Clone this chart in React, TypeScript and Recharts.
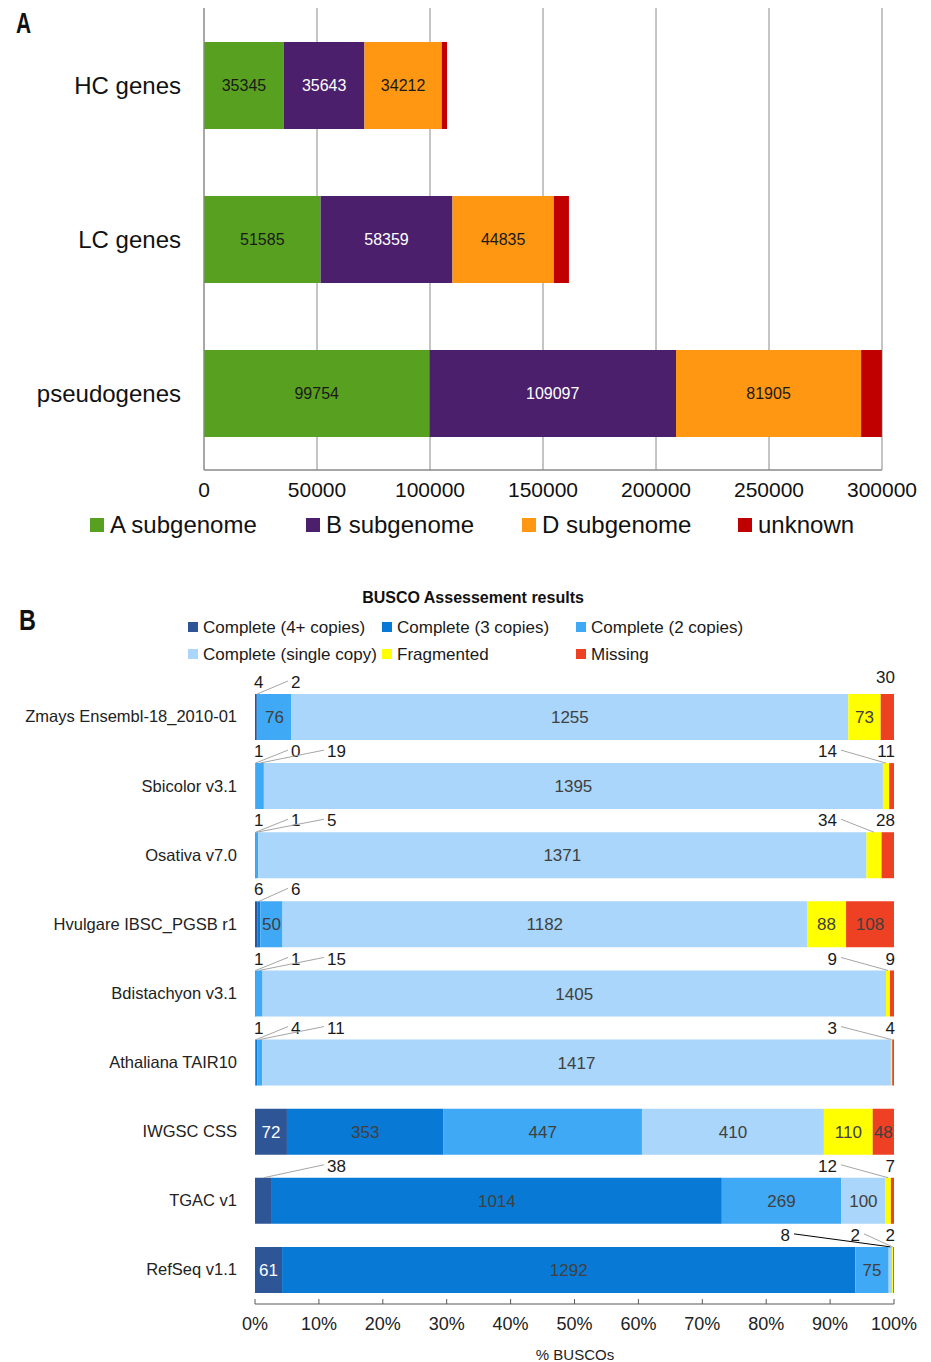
import React from 'react';
import { BarChart, Bar, XAxis, YAxis, CartesianGrid, LabelList } from 'recharts';

const FONT = '"Liberation Sans", Arial, Helvetica, sans-serif';

// ---------- Panel A data ----------
const geneCategories = ['HC genes', 'LC genes', 'pseudogenes'];
const subA = [35345, 51585, 99754];
const subB = [35643, 58359, 109097];
const subD = [34212, 44835, 81905];
const subUnknown = [2350, 6700, 9200];
const geneTicks = [0, 50000, 100000, 150000, 200000, 250000, 300000];

// ---------- Panel B data ----------
const buscoSets = [
  'Zmays Ensembl-18_2010-01',
  'Sbicolor v3.1',
  'Osativa v7.0',
  'Hvulgare IBSC_PGSB r1',
  'Bdistachyon v3.1',
  'Athaliana TAIR10',
  'IWGSC CSS',
  'TGAC v1',
  'RefSeq v1.1',
];
const complete4 = [4, 1, 1, 6, 1, 1, 72, 38, 61];
const complete3 = [2, 0, 1, 6, 1, 4, 353, 1014, 1292];
const complete2 = [76, 19, 5, 50, 15, 11, 447, 269, 75];
const completeSingle = [1255, 1395, 1371, 1182, 1405, 1417, 410, 100, 8];
const fragmented = [73, 14, 34, 88, 9, 3, 110, 12, 2];
const missing = [30, 11, 28, 108, 9, 4, 48, 7, 2];
const percentTicks = [0, 0.1, 0.2, 0.3, 0.4, 0.5, 0.6, 0.7, 0.8, 0.9, 1];

const geneSeries = [
  { key: 'A', name: 'A subgenome', color: '#58A01F', labelColor: '#1a1a1a', values: subA, showLabel: true },
  { key: 'B', name: 'B subgenome', color: '#4C1F6C', labelColor: '#ffffff', values: subB, showLabel: true },
  { key: 'D', name: 'D subgenome', color: '#FF9712', labelColor: '#1a1a1a', values: subD, showLabel: true },
  { key: 'U', name: 'unknown', color: '#C00000', labelColor: '#ffffff', values: subUnknown, showLabel: false },
];

const geneRows = geneCategories.map((name, i) => {
  const row: any = { name };
  geneSeries.forEach((s) => (row[s.key] = s.values[i]));
  return row;
});

const buscoSeries = [
  { key: 'c4', name: 'Complete (4+ copies)', color: '#2E5596', values: complete4 },
  { key: 'c3', name: 'Complete (3 copies)', color: '#087AD6', values: complete3 },
  { key: 'c2', name: 'Complete (2 copies)', color: '#3FA9F5', values: complete2 },
  { key: 'cs', name: 'Complete (single copy)', color: '#A9D6FA', values: completeSingle },
  { key: 'fr', name: 'Fragmented', color: '#FFFF00', values: fragmented },
  { key: 'mi', name: 'Missing', color: '#EE4123', values: missing },
];

const buscoRows = buscoSets.map((name, i) => {
  const row: any = { name };
  buscoSeries.forEach((s) => (row[s.key] = s.values[i]));
  return row;
});

// layout constants for panel B (chart-local coordinates)
const B_WIDTH = 931;
const B_HEIGHT = 702;
const B_MARGIN = { top: 22, right: 37, bottom: 28, left: 0 };
const B_YAXIS_W = 255;
const B_XAXIS_H = 30;
const PLOT_LEFT_B = B_MARGIN.left + B_YAXIS_W;
const PLOT_RIGHT_B = B_WIDTH - B_MARGIN.right;
const PLOT_TOP_B = B_MARGIN.top;
const PLOT_H_B = B_HEIGHT - B_MARGIN.top - B_MARGIN.bottom - B_XAXIS_H;
const INSIDE_MIN = 45;

function callout(sj: number, row: number, segX: number, segW: number, Y: number, key: string) {
  const v = buscoSeries[sj].values[row];
  const segMid = segX + segW / 2;
  if (sj <= 2) {
    const left = [0, 1, 2].filter((k) => buscoSeries[k].values[row] < INSIDE_MIN);
    const k = left.indexOf(sj);
    const slot = left.length === 1 ? 2 : k;
    const tx = PLOT_LEFT_B + [-1, 36, 72][slot];
    const ty = Y - 12;
    return (
      <g key={key}>
        {slot > 0 && <line x1={segMid} y1={Y} x2={tx - 3} y2={ty - 1} stroke="#a6a6a6" strokeWidth={1} />}
        <text x={tx} y={ty} dy="0.36em" textAnchor="start" fontSize={17} fontFamily={FONT} fill="#1a1a1a">
          {v}
        </text>
      </g>
    );
  }
  const right = [5, 4, 3].filter((k) => buscoSeries[k].values[row] < INSIDE_MIN);
  const slot = right.indexOf(sj);
  const edges = right.length === 3 ? [1, -34, -104] : [1, -57];
  const tx = PLOT_RIGHT_B + edges[slot];
  const ty = right.length === 1 ? Y - 17 : Y - 12;
  return (
    <g key={key}>
      {slot > 0 && (
        <line
          x1={tx + 4}
          y1={ty - 1}
          x2={segMid}
          y2={Y}
          stroke={slot === 2 ? '#000000' : '#a6a6a6'}
          strokeWidth={1}
        />
      )}
      <text x={tx} y={ty} dy="0.36em" textAnchor="end" fontSize={17} fontFamily={FONT} fill="#1a1a1a">
        {v}
      </text>
    </g>
  );
}

function buscoLabel(si: number) {
  return (props: any) => {
    const { x, y, width, height } = props;
    const X = Number(x);
    const Y = Number(y);
    const W = Number(width) || 0;
    const H = Number(height);
    const band = PLOT_H_B / buscoSets.length;
    const row = Math.max(0, Math.min(buscoSets.length - 1, Math.floor((Y + H / 2 - PLOT_TOP_B) / band)));
    const v = buscoSeries[si].values[row];
    const parts: any[] = [];
    // zero-valued preceding segments are not drawn by the library; place their callouts here
    for (let j = si - 1; j >= 0 && buscoSeries[j].values[row] === 0; j--) {
      parts.push(callout(j, row, X, 0, Y, `z${j}`));
    }
    if (v >= INSIDE_MIN) {
      parts.push(
        <text
          key="in"
          x={X + W / 2}
          y={Y + H / 2}
          dy="0.36em"
          textAnchor="middle"
          fontSize={17}
          fontFamily={FONT}
          fill={si === 0 ? '#ffffff' : '#404040'}
        >
          {v}
        </text>
      );
    } else {
      parts.push(callout(si, row, X, W, Y, 'c'));
    }
    return <g>{parts}</g>;
  };
}

const pct = (v: number) => `${Math.round(v * 100)}%`;

export default function App() {
  return (
    <div
      style={{
        position: 'absolute',
        left: 0,
        top: 0,
        width: 931,
        height: 1362,
        background: '#ffffff',
        fontFamily: FONT,
        overflow: 'hidden',
      }}
    >
      {/* Panel A */}
      <div style={{ position: 'absolute', left: 0, top: 0 }}>
        <BarChart
          width={931}
          height={500}
          data={geneRows}
          layout="vertical"
          margin={{ top: 8, right: 49, bottom: 0, left: 0 }}
        >
          <CartesianGrid horizontal={false} vertical={true} stroke="#8a8a8a" />
          <XAxis
            type="number"
            domain={[0, 300000]}
            ticks={geneTicks}
            allowDataOverflow
            height={30}
            tickSize={0}
            tickMargin={12}
            tickLine={false}
            axisLine={{ stroke: '#8a8a8a', strokeWidth: 1.5 }}
            tick={{ fontSize: 21, fill: '#111', fontFamily: FONT }}
            interval={0}
          />
          <YAxis
            type="category"
            dataKey="name"
            width={204}
            tickSize={0}
            tickMargin={23}
            tickLine={false}
            axisLine={{ stroke: '#8a8a8a' }}
            tick={{ fontSize: 24, fill: '#111', fontFamily: FONT }}
          />
          {geneSeries.map((s) => (
            <Bar key={s.key} dataKey={s.key} name={s.name} stackId="g" fill={s.color} barSize={87} isAnimationActive={false}>
              {s.showLabel && (
                <LabelList
                  dataKey={s.key}
                  position="center"
                  fill={s.labelColor}
                  fontSize={16}
                  fontFamily={FONT}
                />
              )}
            </Bar>
          ))}
        </BarChart>
      </div>

      {/* Panel B */}
      <div style={{ position: 'absolute', left: 0, top: 660 }}>
        <BarChart
          width={B_WIDTH}
          height={B_HEIGHT}
          data={buscoRows}
          layout="vertical"
          stackOffset="expand"
          margin={B_MARGIN}
        >
          <XAxis
            type="number"
            domain={[0, 1]}
            ticks={percentTicks}
            tickFormatter={pct}
            height={B_XAXIS_H}
            tickSize={-5}
            tickMargin={18}
            axisLine={{ stroke: '#595959' }}
            tickLine={{ stroke: '#595959' }}
            tick={{ fontSize: 18, fill: '#222', fontFamily: FONT }}
            interval={0}
          />
          <YAxis
            type="category"
            dataKey="name"
            width={B_YAXIS_W}
            tickSize={0}
            tickMargin={18}
            tickLine={false}
            axisLine={false}
            tick={{ fontSize: 16.5, fill: '#222', fontFamily: FONT }}
            interval={0}
          />
          {buscoSeries.map((s, si) => (
            <Bar key={s.key} dataKey={s.key} name={s.name} stackId="b" fill={s.color} barSize={46} isAnimationActive={false}>
              <LabelList dataKey={s.key} content={buscoLabel(si)} />
            </Bar>
          ))}
        </BarChart>
      </div>

      {/* Overlay texts: panel letters, legends, titles */}
      <svg
        width={931}
        height={1362}
        style={{ position: 'absolute', left: 0, top: 0, pointerEvents: 'none' }}
        fontFamily={FONT}
      >
        <text transform="translate(16,33) scale(0.72,1)" fontSize={29} fontWeight="bold" fill="#111">
          A
        </text>
        <text transform="translate(19,630) scale(0.78,1)" fontSize={30} fontWeight="bold" fill="#111">
          B
        </text>

        {geneSeries.map((s, i) => (
          <g key={s.key}>
            <rect x={90 + i * 216} y={518} width={14} height={14} fill={s.color} />
            <text x={110 + i * 216} y={533} fontSize={24} fill="#111">
              {s.name}
            </text>
          </g>
        ))}

        <text x={473} y={603} textAnchor="middle" fontSize={16} fontWeight="bold" fill="#111">
          BUSCO Assessement results
        </text>
        {buscoSeries.map((s, i) => {
          const col = i % 3;
          const row = Math.floor(i / 3);
          return (
            <g key={s.key}>
              <rect x={188 + col * 194} y={622 + row * 27} width={10} height={10} fill={s.color} />
              <text x={203 + col * 194} y={633 + row * 27} fontSize={17} fill="#1a1a1a">
                {s.name}
              </text>
            </g>
          );
        })}

        <text x={575} y={1360} textAnchor="middle" fontSize={15} fill="#222">
          % BUSCOs
        </text>
      </svg>
    </div>
  );
}
